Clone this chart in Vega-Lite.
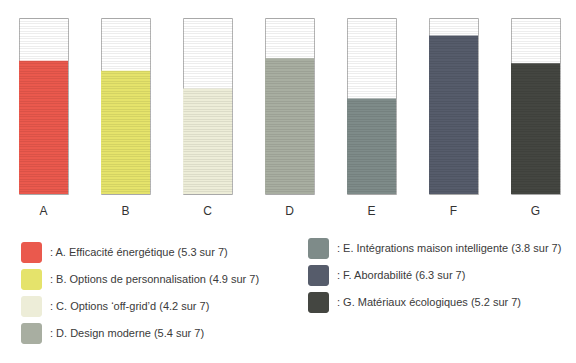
{
  "$schema": "https://vega.github.io/schema/vega-lite/v6.json",
  "padding": {"left": 18, "top": 17, "right": 0, "bottom": 0},
  "autosize": {"type": "pad"},
  "background": "white",
  "data": {"values": [
    {"label": "A", "value": 5.3, "desc": ": A. Efficacité énergétique (5.3 sur 7)"},
    {"label": "B", "value": 4.9, "desc": ": B. Options de personnalisation (4.9 sur 7)"},
    {"label": "C", "value": 4.2, "desc": ": C. Options ‘off-grid’d (4.2 sur 7)"},
    {"label": "D", "value": 5.4, "desc": ": D. Design moderne (5.4 sur 7)"},
    {"label": "E", "value": 3.8, "desc": ": E. Intégrations maison intelligente (3.8 sur 7)"},
    {"label": "F", "value": 6.3, "desc": ": F. Abordabilité (6.3 sur 7)"},
    {"label": "G", "value": 5.2, "desc": ": G. Matériaux écologiques (5.2 sur 7)"}
  ]},
  "facet": {
    "column": {
      "field": "label", "type": "nominal",
      "header": {"title": null, "labelOrient": "bottom", "labelPadding": 11, "labelFontSize": 12, "labelFont": "Liberation Sans", "labelColor": "#333333"}
    }
  },
  "spacing": 31,
  "resolve": {"scale": {"x": "independent"}},
  "spec": {
    "width": 49,
    "height": 176,
    "encoding": {
      "x": {"field": "label", "type": "nominal", "axis": null, "scale": {"paddingInner": 0, "paddingOuter": 0}},
      "y": {
        "field": "value", "type": "quantitative",
        "scale": {"domain": [0, 7], "nice": false},
        "axis": {"grid": true, "labels": false, "ticks": false, "domain": false, "title": null, "tickCount": 70, "gridColor": "#000000", "gridOpacity": 0.07, "gridWidth": 1, "zindex": 1}
      }
    },
    "layer": [
      {
        "transform": [{"filter": {"field": "label", "oneOf": ["A", "B", "C", "D"]}}],
        "mark": {"type": "bar", "strokeWidth": 0},
        "encoding": {
          "color": {
            "field": "desc", "type": "nominal",
            "scale": {"domain": [": A. Efficacité énergétique (5.3 sur 7)", ": B. Options de personnalisation (4.9 sur 7)", ": C. Options ‘off-grid’d (4.2 sur 7)", ": D. Design moderne (5.4 sur 7)"],
                      "range": ["#ea594d", "#e5e36b", "#ededd8", "#a8aea1"]},
            "legend": {"orient": "none", "legendX": 2, "legendY": 224, "title": null}
          }
        }
      },
      {
        "transform": [{"filter": {"field": "label", "oneOf": ["E", "F", "G"]}}],
        "mark": {"type": "bar", "strokeWidth": 0},
        "encoding": {
          "fill": {
            "field": "desc", "type": "nominal",
            "scale": {"domain": [": E. Intégrations maison intelligente (3.8 sur 7)", ": F. Abordabilité (6.3 sur 7)", ": G. Matériaux écologiques (5.2 sur 7)"],
                      "range": ["#7e8b89", "#565c6b", "#444641"]},
            "legend": {"orient": "none", "legendX": 289, "legendY": 220, "title": null}
          }
        }
      }
    ]
  },
  "config": {
    "view": {"stroke": "#b5b5b5", "strokeWidth": 1},
    "legend": {
      "symbolType": "M-0.72,-1H0.72A0.28,0.28 0 0 1 1,-0.72V0.72A0.28,0.28 0 0 1 0.72,1H-0.72A0.28,0.28 0 0 1 -1,0.72V-0.72A0.28,0.28 0 0 1 -0.72,-1Z",
      "symbolSize": 441,
      "symbolStrokeWidth": 0,
      "symbolOpacity": 1,
      "rowPadding": 6,
      "labelOffset": 8,
      "labelFontSize": 11,
      "labelFont": "Liberation Sans",
      "labelColor": "#3a3a3a",
      "labelLimit": 500,
      "padding": 0
    }
  }
}
